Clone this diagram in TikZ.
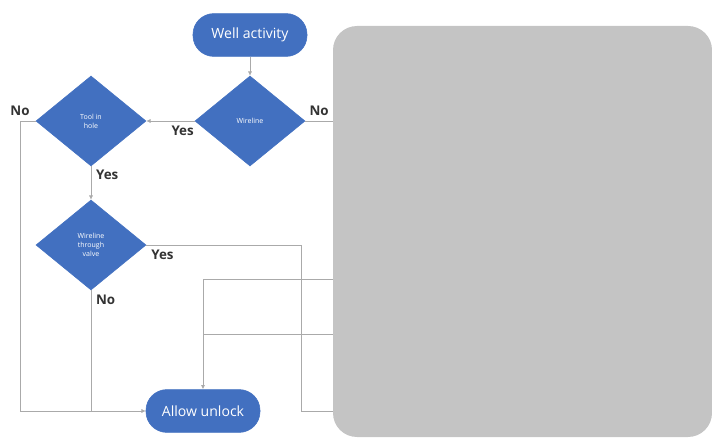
\documentclass[tikz,border=0pt]{standalone}
\usepackage{fontspec}
\setmainfont{Open Sans}
\usetikzlibrary{arrows.meta,positioning,shapes.geometric}
\definecolor{flowblue}{RGB}{66,112,192}
\definecolor{flowline}{RGB}{170,170,170}
\definecolor{panelgrey}{RGB}{196,196,196}

\begin{document}
\begin{tikzpicture}[
        x=0.025cm, y=-0.025cm,
        font=\small,
        terminal/.style={draw=flowblue, fill=flowblue, text=white, rounded corners=0.52cm, minimum width=2.85cm, minimum height=1.07cm, font=\fontsize{10}{12}\selectfont},
        decision/.style={diamond, draw=flowblue, fill=flowblue, text=white, minimum width=2.75cm, minimum height=2.25cm, inner sep=0pt, align=center, font=\fontsize{5}{6.5}\selectfont},
        arrow/.style={-{Latex[length=3pt,width=3pt]}, draw=flowline, line width=0.6pt},
        line/.style={draw=flowline, line width=0.6pt},
        lbl/.style={font=\fontsize{9.5}{11}\selectfont\bfseries, text=black!80}
        ]
        \useasboundingbox (0,0) rectangle (712,439);
        
        % --- Nodes ---
        \node[terminal] (well)     at (250, 35)  {Well activity};
        \node[decision] (wireline) at (250,121)  {Wireline};
        \node[decision] (tool)     at (91, 121)  {Tool in\\hole};
        \node[decision] (valve)    at (91, 245)  {Wireline\\through\\valve};
        \node[terminal] (unlock)   at (203,411)  {Allow unlock};
        
        % --- Turn points and free ends ---
        \coordinate (toolNo)  at (20, 121);
        \coordinate (yesTurn) at (301,245);
        \coordinate (exitA)   at (333,121);
        \coordinate (exitB)   at (333,279);
        \coordinate (exitC)   at (333,334);
        \coordinate (exitD)   at (333,411);
        
        % --- Arrows ---
        \draw[arrow] (well) -- (wireline);
        \draw[arrow] (wireline) -- node[below, lbl, pos=0.25]{Yes} (tool);
        \draw[line] (wireline.east) -- node[above, lbl]{No} (exitA);
        
        \draw[arrow] (tool.west) -- (toolNo) node[above, lbl]{No} |- (unlock.west);
        \draw[arrow] (tool) -- node[right, lbl, pos=0.25]{Yes} (valve);
        
        \draw[line] (valve.south) -- node[right, lbl, pos=0.08]{No} (valve.south |- unlock.west);
        \draw[line] (valve.east) node[below right, lbl]{Yes} -- (yesTurn) |- (exitD);
        
        \draw[arrow] (exitB) -| (unlock.north);
        \draw[line] (exitC) -- (exitC -| unlock.north);
        
        % Grey panel over the right part
        \fill[panelgrey, rounded corners=0.6cm] (333,26) rectangle (712,437);
        
    \end{tikzpicture}
\end{document}
